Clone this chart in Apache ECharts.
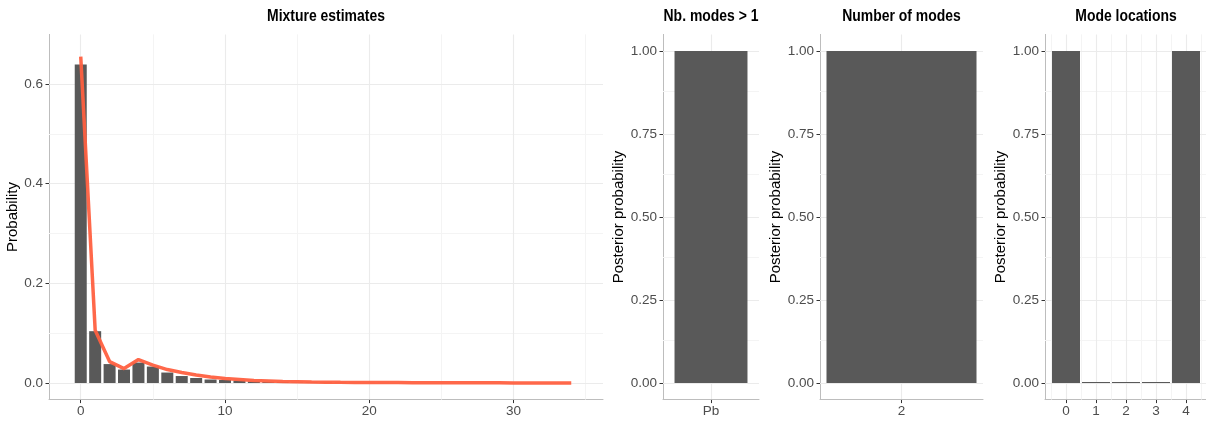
<!DOCTYPE html>
<html>
<head>
<meta charset="utf-8">
<script src="https://cdn.jsdelivr.net/npm/echarts@6/dist/echarts.min.js"></script>
<style>
  html, body { margin: 0; padding: 0; background: #fff; }
  #chart { width: 1206px; height: 425px; }
</style>
</head>
<body>
<div id="chart"></div>
<script>
// ---------- data ----------
const mixX = [0,1,2,3,4,5,6,7,8,9,10,11,12,13,14,15,16,17,18,19,20,21,22,23,24,25,26,27,28,29,30,31,32,33,34];
const mixBars = [0.639,0.104,0.038,0.027,0.041,0.033,0.021,0.014,0.010,0.007,0.006,0.005,0.003,0.002,0.002,0.001,0.001,0.001,0.0007,0.0005,0.0004,0.0003,0.0002,0.0002,0.0001,0.0001,0.0001,0,0,0,0,0,0,0,0];
const mixLine = [0.655,0.106,0.043,0.029,0.047,0.036,0.027,0.021,0.016,0.012,0.009,0.007,0.005,0.004,0.003,0.0025,0.002,0.0017,0.0014,0.0012,0.001,0.0009,0.0008,0.0007,0.0006,0.0005,0.0004,0.0004,0.0003,0.0003,0.0002,0.0002,0.0002,0.0001,0.0001];

const nbCats = ['Pb'];
const nbVals = [1.0];

const numModesX = [2];
const numModesVals = [1.0];

const locX = [0,1,2,3,4];
const locVals = [1.0,0,0,0,1.0];

// ticks / gridlines
const mixXTicks = [0,10,20,30];
const mixXMinor = [5,15,25,35];
const mixYTicks = [0,0.2,0.4,0.6];
const mixYMinor = [0.1,0.3,0.5];
const postYTicks = [0,0.25,0.5,0.75,1];
const postYMinor = [0.125,0.375,0.625,0.875];
const numModesTicks = [2];
const locTicks = [0,1,2,3,4];
const locMinor = [-0.5,0.5,1.5,2.5,3.5,4.5];

const titles = ['Mixture estimates','Nb. modes > 1','Number of modes','Mode locations'];

// ---------- styles ----------
const REG = "'Liberation Sans',Arial,sans-serif";
const BAR = '#595959';
const MAJ = '#EBEBEB';
const MIN = '#F4F4F4';
const AXIS = '#BDBDBD';
const LAB = '#4D4D4D';

const grids = [
  {left: 49,   top: 34.4, width: 554, height: 365.2},
  {left: 663,  top: 34.4, width: 96,  height: 365.2},
  {left: 820,  top: 34.4, width: 163, height: 365.2},
  {left: 1045, top: 34.4, width: 162, height: 365.2}
];
const centers = grids.map(g => g.left + g.width / 2);

function axisBase() {
  return {
    axisLine: {show: true, onZero: false, lineStyle: {color: AXIS, width: 1}},
    axisTick: {show: true, length: 3.5, lineStyle: {color: '#333333', width: 1}},
    axisLabel: {color: LAB, fontFamily: REG, fontSize: 13.5},
    splitLine: {show: false},
    minorSplitLine: {show: false}
  };
}
function xValueAxis(gi, min, max, ticks, fmt) {
  const a = axisBase();
  a.type = 'value'; a.gridIndex = gi; a.min = min; a.max = max;
  a.axisTick.customValues = ticks;
  a.axisLabel.customValues = ticks;
  a.axisLabel.margin = 5;
  a.axisLabel.formatter = fmt;
  return a;
}
function yValueAxis(gi, min, max, ticks, fmt, name, gap) {
  const a = axisBase();
  a.type = 'value'; a.gridIndex = gi; a.min = min; a.max = max;
  a.axisTick.customValues = ticks;
  a.axisLabel.customValues = ticks;
  a.axisLabel.margin = 6;
  a.axisLabel.formatter = fmt;
  a.name = name; a.nameLocation = 'middle'; a.nameGap = gap;
  a.nameTextStyle = {color: '#000', fontFamily: REG, fontSize: 15};
  return a;
}
function gridLines(gi, xs, xsMinor, ys, ysMinor) {
  const d = [];
  (ysMinor || []).forEach(v => d.push({yAxis: v, lineStyle: {color: MIN, width: 1, type: 'solid'}}));
  (xsMinor || []).forEach(v => d.push({xAxis: v, lineStyle: {color: MIN, width: 1, type: 'solid'}}));
  (ys || []).forEach(v => d.push({yAxis: v, lineStyle: {color: MAJ, width: 1.1, type: 'solid'}}));
  (xs || []).forEach(v => d.push({xAxis: v, lineStyle: {color: MAJ, width: 1.1, type: 'solid'}}));
  return {
    type: 'line', xAxisIndex: gi, yAxisIndex: gi, data: [], silent: true, z: 1,
    markLine: {silent: true, z: 1, symbol: ['none','none'], label: {show: false},
      emphasis: {disabled: true}, animation: false, data: d}
  };
}

const f1 = v => String(Math.round(v));
const f1d = v => v.toFixed(1);
const f2d = v => v.toFixed(2);

const xNb = axisBase();
Object.assign(xNb, {type: 'category', gridIndex: 1, data: nbCats, boundaryGap: true});
xNb.axisTick.alignWithLabel = true;
xNb.axisLabel.margin = 5;

const option = {
  animation: false,
  backgroundColor: '#ffffff',
  graphic: titles.map((t, i) => ({
    type: 'text', x: centers[i], y: 16, scaleX: 0.82, silent: true,
    style: {text: t, fill: '#000', font: "bold 17px 'Liberation Sans', Arial, sans-serif",
      textAlign: 'center', textVerticalAlign: 'middle'}
  })),
  grid: grids.map(g => Object.assign({containLabel: false, outerBoundsMode: 'none'}, g)),
  xAxis: [
    xValueAxis(0, -2.2, 36.2, mixXTicks, f1),
    xNb,
    xValueAxis(2, 1.505, 2.495, numModesTicks, f1),
    xValueAxis(3, -0.7, 4.7, locTicks, f1)
  ],
  yAxis: [
    yValueAxis(0, -0.0333, 0.6996, mixYTicks, f1d, 'Probability', 24),
    yValueAxis(1, -0.05, 1.05, postYTicks, f2d, 'Posterior probability', 28.5),
    yValueAxis(2, -0.05, 1.05, postYTicks, f2d, 'Posterior probability', 28),
    yValueAxis(3, -0.05, 1.05, postYTicks, f2d, 'Posterior probability', 28)
  ],
  series: [
    gridLines(0, mixXTicks, mixXMinor, mixYTicks, mixYMinor),
    gridLines(1, ['Pb'], null, postYTicks, postYMinor),
    gridLines(2, numModesTicks, null, postYTicks, postYMinor),
    gridLines(3, locTicks, locMinor, postYTicks, postYMinor),
    {
      type: 'bar', xAxisIndex: 0, yAxisIndex: 0, z: 2, barWidth: 12,
      itemStyle: {color: BAR}, silent: true,
      data: mixX.map((x, i) => [x, mixBars[i]])
    },
    {
      type: 'line', xAxisIndex: 0, yAxisIndex: 0, z: 3, symbol: 'none', smooth: false,
      lineStyle: {color: '#FF6040', width: 3.5, opacity: 0.95}, silent: true,
      data: mixX.map((x, i) => [x, mixLine[i]])
    },
    {
      type: 'bar', xAxisIndex: 1, yAxisIndex: 1, z: 2, barWidth: '76%',
      itemStyle: {color: BAR}, silent: true, data: nbVals
    },
    {
      type: 'bar', xAxisIndex: 2, yAxisIndex: 2, z: 2, barWidth: 150,
      itemStyle: {color: BAR}, silent: true,
      data: numModesX.map((x, i) => [x, numModesVals[i]])
    },
    {
      type: 'bar', xAxisIndex: 3, yAxisIndex: 3, z: 2, barWidth: 28, barMinHeight: 1,
      itemStyle: {color: BAR}, silent: true,
      data: locX.map((x, i) => [x, locVals[i]])
    }
  ]
};

const chart = echarts.init(document.getElementById('chart'), null, {renderer: 'canvas'});
chart.setOption(option);
</script>
</body>
</html>
